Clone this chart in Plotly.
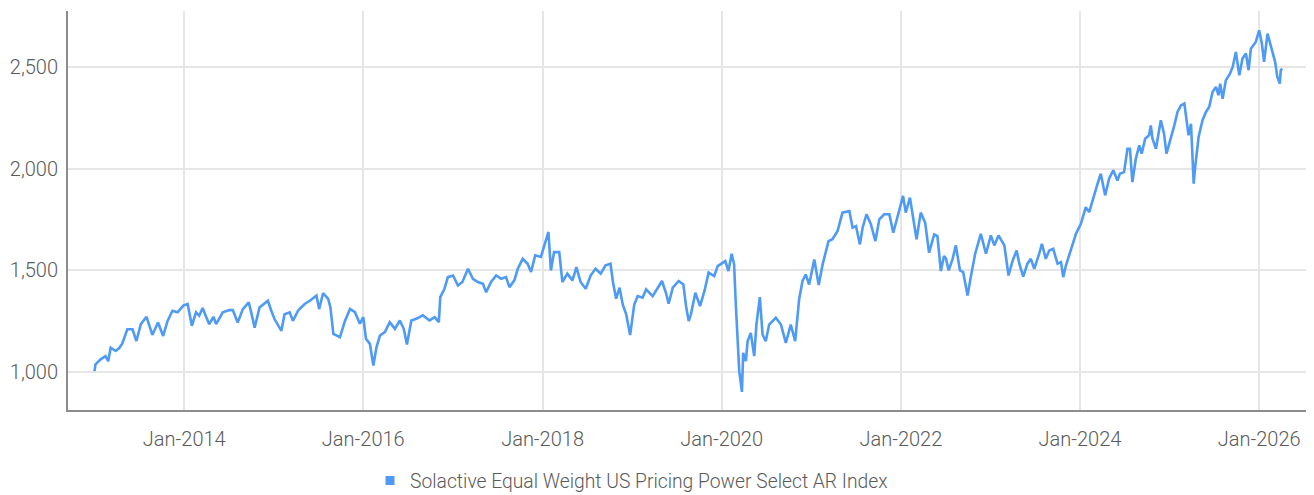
import plotly.graph_objects as go

SERIES_NAME = "Solactive Equal Weight US Pricing Power Select AR Index"

dates = [
    "2012-12-31", "2013-01-04", "2013-01-25", "2013-02-14", "2013-02-25", "2013-03-07", "2013-03-27",
    "2013-04-10", "2013-04-23", "2013-05-14", "2013-06-04", "2013-06-20", "2013-07-08", "2013-07-31",
    "2013-08-24", "2013-09-16", "2013-10-07", "2013-10-25", "2013-11-14", "2013-12-05", "2013-12-28",
    "2014-01-15", "2014-02-01", "2014-02-18", "2014-03-03", "2014-03-17", "2014-03-31", "2014-04-13",
    "2014-04-30", "2014-05-11", "2014-06-07", "2014-07-04", "2014-07-18", "2014-08-07", "2014-08-28",
    "2014-09-21", "2014-10-01", "2014-10-15", "2014-11-04", "2014-12-08", "2014-12-22", "2015-01-04",
    "2015-02-01", "2015-02-14", "2015-03-07", "2015-03-20", "2015-04-10", "2015-05-07", "2015-05-28",
    "2015-06-24", "2015-07-05", "2015-07-21", "2015-08-11", "2015-08-20",
    "2015-09-01", "2015-09-28", "2015-10-19", "2015-11-08", "2015-11-28", "2015-12-18", "2016-01-01",
    "2016-01-12", "2016-01-28", "2016-02-11", "2016-02-24", "2016-03-09", "2016-03-29", "2016-04-18",
    "2016-05-09", "2016-05-29", "2016-06-14", "2016-06-27", "2016-07-15", "2016-08-04", "2016-08-31",
    "2016-09-27", "2016-10-18", "2016-11-04", "2016-11-10", "2016-11-27", "2016-12-11", "2017-01-01",
    "2017-01-21", "2017-02-08", "2017-03-03", "2017-03-23", "2017-04-12", "2017-05-03", "2017-05-16",
    "2017-06-05", "2017-06-26", "2017-07-16", "2017-08-05", "2017-08-19", "2017-09-08", "2017-09-22",
    "2017-10-12", "2017-11-01", "2017-11-15", "2017-12-02", "2017-12-25", "2018-01-08", "2018-01-25",
    "2018-02-04", "2018-02-17", "2018-03-10", "2018-03-23", "2018-04-12", "2018-05-03", "2018-05-19",
    "2018-06-05", "2018-06-26", "2018-07-16", "2018-08-05", "2018-08-26", "2018-09-15", "2018-10-05",
    "2018-10-15", "2018-10-28",
    "2018-11-11", "2018-11-24", "2018-12-08", "2018-12-24", "2019-01-10", "2019-01-24", "2019-02-13",
    "2019-02-27", "2019-03-26", "2019-04-15", "2019-05-03", "2019-05-19", "2019-05-30", "2019-06-16",
    "2019-07-10", "2019-07-29", "2019-08-09", "2019-08-20", "2019-08-29", "2019-09-16", "2019-10-05",
    "2019-10-23", "2019-11-09", "2019-12-02", "2019-12-16", "2020-01-16", "2020-01-29", "2020-02-11",
    "2020-02-21", "2020-02-28", "2020-03-06", "2020-03-13", "2020-03-24", "2020-03-29", "2020-04-09",
    "2020-04-16", "2020-04-29", "2020-05-13", "2020-05-22", "2020-06-05", "2020-06-16", "2020-06-29",
    "2020-07-13", "2020-08-09", "2020-08-30", "2020-09-19", "2020-10-09", "2020-10-27", "2020-11-12",
    "2020-11-26", "2020-12-09", "2020-12-23", "2021-01-13", "2021-01-31", "2021-02-16", "2021-03-12",
    "2021-03-28", "2021-04-18", "2021-05-08", "2021-06-05", "2021-06-18", "2021-07-02", "2021-07-18",
    "2021-07-29", "2021-08-14", "2021-09-01", "2021-09-19", "2021-10-05", "2021-10-25", "2021-11-15",
    "2021-12-01", "2021-12-18", "2022-01-10", "2022-01-21", "2022-02-07", "2022-02-20", "2022-03-06",
    "2022-03-23", "2022-04-10", "2022-04-26", "2022-05-17", "2022-05-30", "2022-06-13", "2022-06-26",
    "2022-07-04", "2022-07-15", "2022-07-31", "2022-08-13", "2022-08-30", "2022-09-12", "2022-09-30",
    "2022-10-13", "2022-10-31", "2022-11-23", "2022-12-14", "2023-01-03", "2023-01-17", "2023-02-03",
    "2023-02-27", "2023-03-16", "2023-04-02", "2023-04-18", "2023-04-29", "2023-05-15", "2023-06-01",
    "2023-06-15", "2023-06-29", "2023-07-19", "2023-07-30", "2023-08-15", "2023-08-29", "2023-09-14",
    "2023-10-02", "2023-10-16", "2023-10-25", "2023-11-05", "2023-11-25", "2023-12-16", "2024-01-05",
    "2024-01-12", "2024-01-25", "2024-02-08", "2024-02-21", "2024-03-13", "2024-03-26", "2024-04-13",
    "2024-04-29", "2024-05-16", "2024-06-02", "2024-06-12", "2024-06-29", "2024-07-13", "2024-07-23",
    "2024-08-02", "2024-08-16", "2024-08-30", "2024-09-09", "2024-09-23", "2024-10-09", "2024-10-16",
    "2024-10-23", "2024-11-06", "2024-11-26", "2024-12-09", "2024-12-19", "2025-01-06", "2025-01-20",
    "2025-02-02", "2025-02-16", "2025-03-02", "2025-03-11", "2025-03-19", "2025-03-29", "2025-04-05",
    "2025-04-09", "2025-04-15", "2025-04-29", "2025-05-15", "2025-05-29", "2025-06-11", "2025-06-25",
    "2025-07-09", "2025-07-19", "2025-07-26", "2025-08-05", "2025-08-18", "2025-09-04", "2025-09-15",
    "2025-09-28", "2025-10-12", "2025-10-25", "2025-11-08", "2025-11-19", "2025-11-28", "2025-12-18",
    "2026-01-01", "2026-01-12", "2026-01-21", "2026-02-04", "2026-02-13", "2026-02-24", "2026-03-07",
    "2026-03-16", "2026-03-26", "2026-03-30", "2026-04-05",
]

values = [
    1005, 1038, 1063, 1079, 1054, 1120, 1104,
    1117, 1140, 1211, 1211, 1153, 1236, 1272,
    1183, 1244, 1178, 1252, 1302, 1294, 1327,
    1335, 1228, 1294, 1277, 1315, 1272, 1236,
    1272, 1236, 1294, 1305, 1305, 1244, 1310,
    1343, 1294, 1219, 1318, 1351, 1302, 1261,
    1203, 1285, 1294, 1252, 1302, 1335, 1351,
    1376, 1310, 1388, 1360, 1318,
    1188, 1172, 1254, 1311, 1295, 1238, 1270,
    1164, 1139, 1033, 1123, 1180, 1197, 1246,
    1213, 1254, 1213, 1136, 1254, 1262, 1279,
    1254, 1270, 1246, 1369, 1410, 1467, 1475,
    1426, 1443, 1508, 1459, 1443, 1434, 1393,
    1443, 1475, 1459, 1467, 1418, 1451, 1508,
    1557, 1533, 1492, 1574, 1566, 1623, 1689,
    1500, 1590, 1590, 1443, 1484, 1451, 1516,
    1443, 1410, 1475, 1508, 1484, 1525, 1533,
    1443, 1361,
    1415, 1333, 1284, 1182, 1333, 1374, 1366,
    1407, 1374, 1415, 1448, 1390, 1336, 1415,
    1448, 1431, 1325, 1251, 1284, 1390, 1325,
    1398, 1489, 1472, 1521, 1546, 1497, 1582,
    1530, 1333, 1169, 1005, 903, 1095, 1054,
    1152, 1193, 1079, 1234, 1369, 1185, 1152,
    1234, 1267, 1234, 1144, 1234, 1152, 1357,
    1448, 1480, 1431, 1554, 1428, 1530, 1644,
    1653, 1694, 1784, 1792, 1710, 1718, 1628,
    1710, 1776, 1726, 1644, 1751, 1776, 1776,
    1685, 1767, 1866, 1784, 1858, 1759, 1653,
    1784, 1735, 1587, 1677, 1669, 1497, 1571,
    1557, 1500, 1557, 1623, 1500, 1492, 1377,
    1467, 1582, 1680, 1582, 1672, 1623, 1672,
    1623, 1475, 1549, 1598, 1533, 1470, 1533,
    1557, 1508, 1582, 1631, 1557, 1598, 1606,
    1533, 1541, 1467, 1524, 1606, 1680, 1729,
    1754, 1811, 1787, 1844, 1926, 1975, 1869,
    1951, 1992, 1942, 1975, 1983, 2098, 2098,
    1934, 2049, 2115, 2074, 2147, 2164, 2213,
    2147, 2098, 2238, 2172, 2074, 2147, 2213,
    2279, 2311, 2320, 2238, 2164, 2221, 2041,
    1926, 2008, 2156, 2238, 2279, 2303, 2377,
    2402, 2361, 2418, 2344, 2434, 2467, 2500,
    2574, 2459, 2541, 2566, 2484, 2590, 2623,
    2680, 2615, 2525, 2664, 2623, 2574, 2525,
    2451, 2418, 2484, 2492,
]

y_ticks = [1000, 1500, 2000, 2500]
x_tick_start = "2014-01-01"
x_range = ["2012-09-14", "2026-07-15"]
y_range = [814, 2775]

LINE_COLOR = "#4e9af5"
TEXT_COLOR = "#5a5a5a"
GRID_COLOR = "#e6e6e6"
AXIS_COLOR = "#8c8c8c"
FONT = "Roboto"

fig = go.Figure()
fig.add_trace(go.Scatter(
    x=dates, y=values, mode="lines", name=SERIES_NAME,
    line=dict(color=LINE_COLOR, width=2.6), showlegend=False,
))
fig.add_trace(go.Scatter(
    x=[None], y=[None], mode="markers", name=SERIES_NAME,
    marker=dict(color=LINE_COLOR, symbol="square", size=9), showlegend=True,
))

# page body has an 8px margin, so the figure is offset to compensate
fig.update_layout(
    width=1306, height=495,
    margin=dict(l=60, r=7, t=3, b=93),
    paper_bgcolor="white", plot_bgcolor="white",
    font=dict(family=FONT, size=20, color=TEXT_COLOR, weight=300),
    showlegend=True,
    legend=dict(
        orientation="h", xref="container", yref="container",
        x=0.2772, xanchor="left", y=0.0444, yanchor="middle",
        font=dict(family=FONT, size=19.3, color=TEXT_COLOR, weight=300),
        itemwidth=30,
    ),
    xaxis=dict(
        type="date", range=x_range, tick0=x_tick_start, dtick="M24",
        tickformat="%b-%Y", showgrid=True, gridcolor=GRID_COLOR, gridwidth=2,
        showline=True, linecolor=AXIS_COLOR, linewidth=2, ticks="",
        zeroline=False, ticklabelstandoff=10, automargin=False,
    ),
    yaxis=dict(
        range=y_range, tickvals=y_ticks, tickformat=",",
        showgrid=True, gridcolor=GRID_COLOR, gridwidth=2,
        showline=True, linecolor=AXIS_COLOR, linewidth=2, ticks="",
        zeroline=False, ticklabelstandoff=4, automargin=False,
    ),
)

fig.write_html("out.html")
